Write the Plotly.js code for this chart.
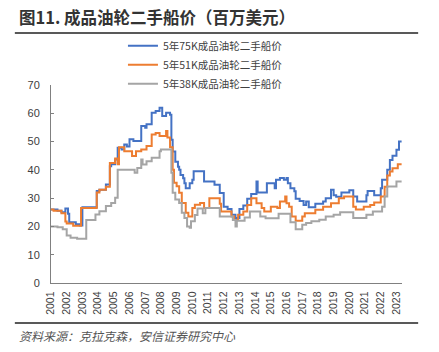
<!DOCTYPE html>
<html>
<head>
<meta charset="utf-8">
<script src="https://cdn.plot.ly/plotly-3.0.1.min.js"></script>
<style>
  html, body { margin: 0; padding: 0; background: #fff; }
  #chart { width: 439px; height: 352px; }
</style>
</head>
<body>
<div id="chart"></div>
<script>
// ---- Data (change points, step series; values in US$ million) ----
const seriesNames = ["5年75K成品油轮二手船价", "5年51K成品油轮二手船价", "5年38K成品油轮二手船价"];

const dates75 = ["2001-01","2001-06","2001-09","2001-12","2002-02","2002-03","2002-08","2002-11","2003-01","2003-12",
  "2004-02","2004-07","2004-10","2004-11","2005-02","2005-04","2005-07","2005-09","2005-11","2006-01",
  "2006-04","2006-10","2007-01","2007-02","2007-06","2007-09","2007-12","2008-02","2008-05","2008-08",
  "2008-09","2008-10","2008-12","2009-02","2009-03","2009-04","2009-06","2009-07","2009-08","2009-11",
  "2010-01","2010-02","2010-10","2011-06","2011-10","2012-01","2012-04","2012-07","2012-10","2013-01",
  "2013-04","2013-07","2013-10","2014-02","2014-03","2014-10","2015-04","2015-05","2015-08","2015-11",
  "2016-01","2016-02","2016-04","2016-07","2016-08","2016-11","2017-02","2017-04","2017-06","2017-11",
  "2018-05","2018-07","2018-11","2019-01","2019-03","2019-07","2020-01","2020-04","2020-07","2021-02",
  "2021-03","2021-08","2022-01","2022-02","2022-06","2022-08","2022-10","2023-01","2023-03","2023-05"];
const v75 = [26.0,25.5,25.0,26.3,24.5,21.5,20.8,20.3,26.8,32.5,
  33.0,34.8,41.3,42.0,43.7,47.8,47.2,49.0,48.3,50.8,
  50.2,55.5,54.9,56.1,60.2,60.8,62.0,59.0,60.2,59.5,
  50.6,46.5,42.9,41.1,40.0,38.2,37.0,35.3,33.5,35.3,
  36.5,39.5,35.9,34.7,31.8,27.0,26.2,24.1,23.0,26.2,
  27.4,29.8,31.5,35.9,32.0,35.3,33.5,36.5,37.1,36.5,
  37.1,35.3,33.5,32.4,29.8,29.0,27.6,28.8,26.8,28.0,
  28.8,30.0,33.0,31.0,30.5,32.0,32.8,30.6,28.8,31.0,
  32.5,31.0,33.5,36.5,40.0,43.5,45.0,47.1,50.0,50.0];

const dates51 = ["2001-01","2001-03","2001-09","2001-12","2002-01","2002-06","2002-12","2003-12","2004-02","2004-07",
  "2004-10","2005-02","2005-04","2005-05","2005-09","2006-03","2006-06","2006-10","2007-02","2007-06",
  "2007-09","2007-12","2008-05","2008-06","2008-08","2008-10","2008-11","2009-01","2009-03","2009-05",
  "2009-08","2009-10","2010-01","2010-03","2010-07","2010-10","2011-02","2011-10","2011-11","2012-07",
  "2012-09","2012-12","2013-04","2013-07","2013-10","2014-02","2014-06","2014-08","2015-01","2015-06",
  "2015-08","2015-12","2016-01","2016-03","2016-05","2016-08","2017-01","2017-03","2017-11","2018-05",
  "2018-11","2019-05","2019-09","2020-04","2020-06","2020-12","2021-05","2021-08","2022-01","2022-04",
  "2022-06","2022-08","2022-10","2023-02","2023-05"];
const v51 = [26.0,25.5,24.7,21.7,21.0,20.2,26.5,32.0,33.0,34.0,
  42.4,44.0,42.0,48.0,46.6,44.9,46.6,47.2,48.4,52.5,
  53.0,52.0,53.7,51.4,48.0,40.0,35.4,34.2,31.9,28.3,
  24.8,23.5,26.5,27.7,28.3,26.5,30.0,28.0,25.3,23.5,
  22.3,24.1,25.3,27.6,30.0,28.2,26.5,25.3,27.0,26.5,
  28.8,30.6,28.2,27.0,23.5,22.0,23.5,24.7,25.9,27.0,
  28.2,30.0,30.6,27.0,26.0,27.0,27.6,28.5,30.6,34.0,
  38.0,39.4,40.6,42.0,42.0];

const dates38 = ["2001-01","2001-06","2001-10","2002-01","2002-04","2002-09","2003-04","2003-11","2004-02","2004-07",
  "2004-11","2005-02","2005-04","2006-05","2006-07","2006-10","2006-11","2007-02","2007-06","2007-12",
  "2008-01","2008-09","2008-10","2008-12","2009-03","2009-05","2009-07","2009-09","2009-11","2009-12",
  "2010-03","2010-05","2010-09","2010-11","2011-10","2012-08","2012-10","2012-11","2013-05","2013-09",
  "2014-05","2014-09","2015-07","2016-04","2016-08","2017-01","2017-04","2017-08","2018-02","2018-07",
  "2019-01","2019-06","2020-04","2021-02","2021-07","2022-02","2022-04","2022-06","2023-01","2023-05"];
const v38 = [20.0,19.7,19.0,16.8,16.0,15.6,22.3,24.2,25.4,27.2,
  28.3,30.1,40.0,39.0,40.7,43.7,41.9,43.0,44.3,46.6,
  47.2,39.0,31.9,29.5,28.3,24.8,23.0,20.0,19.5,21.8,
  24.0,26.3,24.7,26.5,23.5,22.3,20.0,22.0,23.2,25.3,
  23.5,22.9,24.5,21.5,19.0,20.6,21.2,21.8,22.4,23.5,
  24.1,25.0,23.0,24.1,25.3,27.0,30.6,34.1,35.9,35.9];

const seriesColors = ["#4472C4", "#ED7D31", "#A5A5A5"];

const titleText = "图11. 成品油轮二手船价（百万美元）";
const sourceText = "资料来源：克拉克森，安信证券研究中心";

// ---- Traces ----
const xs = [dates75, dates51, dates38];
const ys = [v75, v51, v38];
const traces = xs.map((x, i) => ({
  type: "scatter",
  mode: "lines",
  x: x,
  y: ys[i],
  name: seriesNames[i],
  line: { color: seriesColors[i], width: 2, shape: "hv" }
}));

const cjk = "'Noto Sans CJK SC', 'Noto Sans', sans-serif";
const latin = "'Liberation Sans', Arial, sans-serif";

const layout = {
  width: 439,
  height: 352,
  margin: { l: 51, r: 37, t: 85, b: 69 },
  paper_bgcolor: "#ffffff",
  plot_bgcolor: "#ffffff",
  font: { family: latin, size: 11, color: "#404040" },
  showlegend: true,
  legend: {
    orientation: "v",
    x: 0.205, xanchor: "left",
    y: 1.272, yanchor: "top",
    font: { family: cjk, size: 10.5, color: "#404040" },
    bgcolor: "rgba(0,0,0,0)",
    itemwidth: 30
  },
  xaxis: {
    type: "date",
    range: ["2001-01-01", "2023-05-10"],
    tick0: "2001-01-01",
    dtick: "M12",
    tickformat: "%Y",
    tickangle: -90,
    tickfont: { family: latin, size: 10.5, color: "#404040" },
    ticklabelstandoff: 3,
    showgrid: false,
    zeroline: false,
    showline: true,
    linecolor: "#808080",
    linewidth: 1.3,
    ticks: "",
    fixedrange: true
  },
  yaxis: {
    range: [0, 70],
    dtick: 10,
    tick0: 0,
    tickfont: { family: latin, size: 11, color: "#404040" },
    showgrid: false,
    zeroline: false,
    showline: true,
    linecolor: "#808080",
    linewidth: 1,
    ticks: "inside",
    ticklen: 3,
    tickcolor: "#808080",
    ticklabelstandoff: 8,
    fixedrange: true
  },
  shapes: [
    { type: "line", xref: "paper", yref: "paper", x0: -0.103, x1: 1.046, y0: 1.262, y1: 1.262,
      line: { color: "#222222", width: 1.5 } },
    { type: "line", xref: "paper", yref: "paper", x0: -0.103, x1: 1.046, y0: -0.202, y1: -0.202,
      line: { color: "#222222", width: 1.5 } }
  ],
  annotations: [
    { xref: "paper", yref: "paper", x: -0.098, y: 1.272, xanchor: "left", yanchor: "bottom",
      text: "<b>" + titleText + "</b>", showarrow: false,
      font: { family: cjk, size: 16.5, color: "#333333" } },
    { xref: "paper", yref: "paper", x: -0.098, y: -0.21, xanchor: "left", yanchor: "top",
      text: "<i>" + sourceText + "</i>", showarrow: false,
      font: { family: cjk, size: 12, color: "#555555" } }
  ]
};

Plotly.newPlot("chart", traces, layout, { displayModeBar: false, staticPlot: true });
</script>
</body>
</html>
